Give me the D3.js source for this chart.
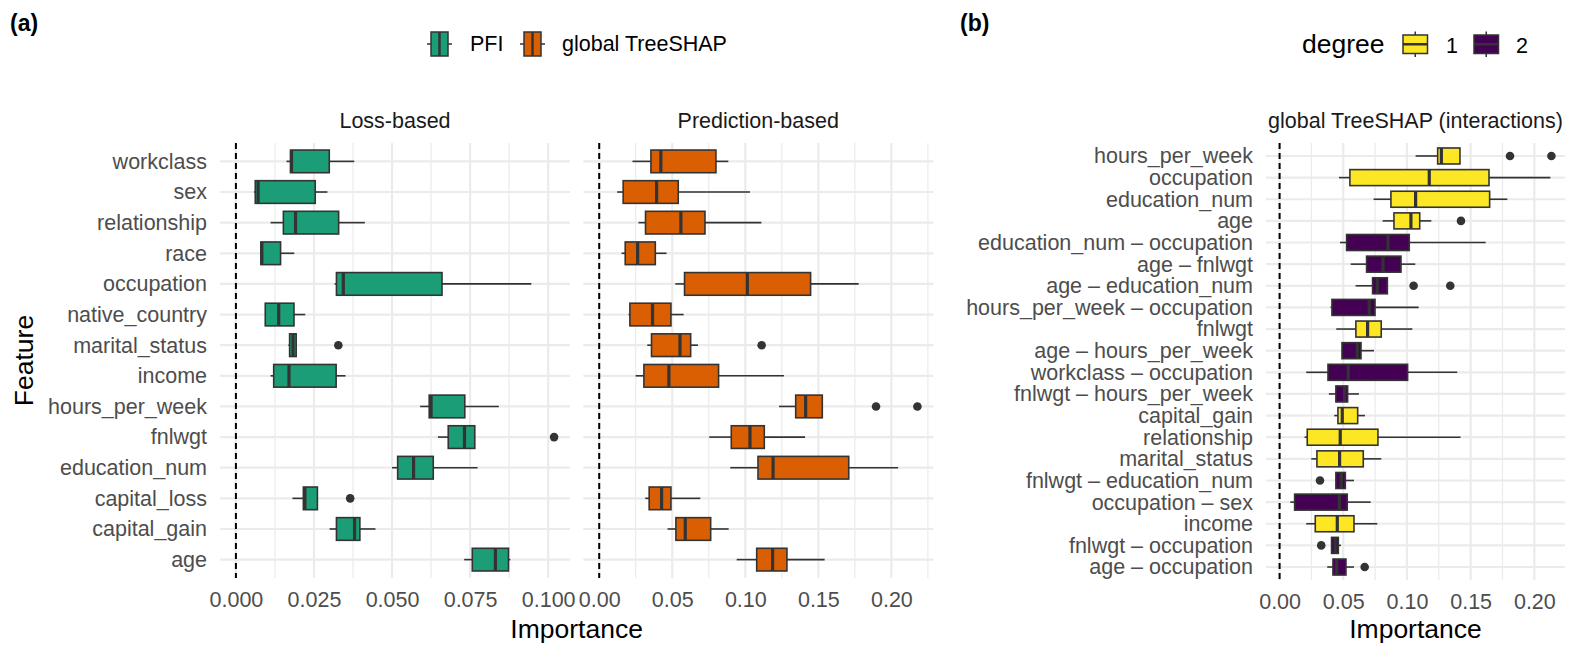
<!DOCTYPE html>
<html>
<head>
<meta charset="utf-8">
<script src="https://cdn.jsdelivr.net/npm/d3@7"></script>
<style>
  body { margin: 0; background: #fff; }
  text { font-family: "Liberation Sans", Arial, sans-serif; }
</style>
</head>
<body>
<div id="chart"></div>
<script>
// ---- data (whisker low, Q1, median, Q3, whisker high) ----
var features = ['workclass', 'sex', 'relationship', 'race', 'occupation', 'native_country',
  'marital_status', 'income', 'hours_per_week', 'fnlwgt', 'education_num',
  'capital_loss', 'capital_gain', 'age'];

var lossBoxes = [
  [0.0162, 0.0175, 0.0178, 0.0299, 0.0379],
  [0.0058, 0.0062, 0.0071, 0.0254, 0.0293],
  [0.0111, 0.0152, 0.0191, 0.0329, 0.0413],
  [0.0077, 0.0080, 0.0083, 0.0143, 0.0187],
  [0.0316, 0.0322, 0.0344, 0.0660, 0.0946],
  [0.0093, 0.0094, 0.0137, 0.0186, 0.0222],
  [0.0168, 0.0172, 0.0183, 0.0193, 0.0195],
  [0.0111, 0.0121, 0.0170, 0.0321, 0.0351],
  [0.0590, 0.0619, 0.0625, 0.0733, 0.0842],
  [0.0647, 0.0680, 0.0732, 0.0765, 0.0765],
  [0.0500, 0.0518, 0.0569, 0.0632, 0.0774],
  [0.0181, 0.0216, 0.0221, 0.0261, 0.0261],
  [0.0300, 0.0322, 0.0380, 0.0397, 0.0447],
  [0.0731, 0.0757, 0.0831, 0.0873, 0.0879]
];
var lossOutliers = [['marital_status', 0.0328], ['fnlwgt', 0.1019], ['capital_loss', 0.0366]];
var lossTicks = [0, 0.025, 0.05, 0.075, 0.1];

var predBoxes = [
  [0.0228, 0.0354, 0.0422, 0.0799, 0.0884],
  [0.0123, 0.0164, 0.0393, 0.0541, 0.1032],
  [0.0269, 0.0317, 0.0559, 0.0724, 0.1110],
  [0.0153, 0.0178, 0.0263, 0.0384, 0.0461],
  [0.0521, 0.0584, 0.1014, 0.1447, 0.1776],
  [0.0201, 0.0210, 0.0365, 0.0491, 0.0578],
  [0.0329, 0.0358, 0.0553, 0.0626, 0.0676],
  [0.0249, 0.0306, 0.0477, 0.0817, 0.1265],
  [0.1231, 0.1345, 0.1413, 0.1527, 0.1527],
  [0.0753, 0.0904, 0.1032, 0.1130, 0.1409],
  [0.0897, 0.1087, 0.1190, 0.1708, 0.2046],
  [0.0315, 0.0342, 0.0427, 0.0491, 0.0692],
  [0.0468, 0.0525, 0.0589, 0.0763, 0.0886],
  [0.0941, 0.1078, 0.1187, 0.1285, 0.1543]
];
var predOutliers = [['marital_status', 0.1112], ['hours_per_week', 0.1895], ['hours_per_week', 0.2178]];
var predTicks = [0, 0.05, 0.1, 0.15, 0.2];

var interTerms = ['hours_per_week', 'occupation', 'education_num', 'age',
  'education_num \u2013 occupation', 'age \u2013 fnlwgt', 'age \u2013 education_num',
  'hours_per_week \u2013 occupation', 'fnlwgt', 'age \u2013 hours_per_week',
  'workclass \u2013 occupation', 'fnlwgt \u2013 hours_per_week', 'capital_gain',
  'relationship', 'marital_status', 'fnlwgt \u2013 education_num', 'occupation \u2013 sex',
  'income', 'fnlwgt \u2013 occupation', 'age \u2013 occupation'];
var interDegree = [1, 1, 1, 1, 2, 2, 2, 2, 1, 2, 2, 2, 1, 1, 1, 2, 2, 1, 2, 2];
var interBoxes = [
  [0.1068, 0.1241, 0.1270, 0.1416, 0.1416],
  [0.0466, 0.0552, 0.1175, 0.1644, 0.2126],
  [0.0738, 0.0874, 0.1068, 0.1649, 0.1788],
  [0.0809, 0.0898, 0.1031, 0.1100, 0.1191],
  [0.0474, 0.0526, 0.0851, 0.1018, 0.1618],
  [0.0558, 0.0683, 0.0812, 0.0953, 0.1065],
  [0.0597, 0.0730, 0.0767, 0.0846, 0.0850],
  [0.0400, 0.0411, 0.0704, 0.0749, 0.1092],
  [0.0445, 0.0599, 0.0691, 0.0798, 0.1042],
  [0.0490, 0.0490, 0.0610, 0.0639, 0.0741],
  [0.0209, 0.0380, 0.0539, 0.1005, 0.1395],
  [0.0387, 0.0442, 0.0510, 0.0534, 0.0623],
  [0.0429, 0.0458, 0.0492, 0.0613, 0.0670],
  [0.0196, 0.0217, 0.0476, 0.0772, 0.1421],
  [0.0249, 0.0293, 0.0471, 0.0657, 0.0798],
  [0.0442, 0.0442, 0.0484, 0.0516, 0.0584],
  [0.0084, 0.0118, 0.0469, 0.0531, 0.0715],
  [0.0209, 0.0280, 0.0453, 0.0584, 0.0767],
  [0.0408, 0.0408, 0.0437, 0.0461, 0.0482],
  [0.0374, 0.0419, 0.0448, 0.0521, 0.0584]
];
var interOutliers = [['hours_per_week', 0.1809], ['hours_per_week', 0.2134], ['age', 0.1424],
  ['age \u2013 education_num', 0.1052], ['age \u2013 education_num', 0.1340],
  ['fnlwgt \u2013 education_num', 0.0317], ['fnlwgt \u2013 occupation', 0.0327],
  ['age \u2013 occupation', 0.0668]];
var interTicks = [0, 0.05, 0.1, 0.15, 0.2];

var methodNames = ['PFI', 'global TreeSHAP'];
var methodColors = ['#1B9E77', '#D95F02'];
var degreeNames = [1, 2];
var degreeColors = ['#FDE725', '#440154'];

// ---- layout ----
var W = 1578, H = 658;
var svg = d3.select('#chart').append('svg')
    .attr('width', W)
    .attr('height', H);

var axisGrey = '#4D4D4D', gridCol = '#EBEBEB', boxLine = '#333333';
var small = 21.5, big = 26.5;

function domainOf(boxes, outs) {
  var vals = [0];
  boxes.forEach(function(b) { vals.push(b[0], b[4]); });
  outs.forEach(function(o) { vals.push(o[1]); });
  var lo = d3.min(vals), hi = d3.max(vals), pad = (hi - lo) * 0.05;
  return [lo - pad, hi + pad];
}

function drawPanel(opt) {
  var g = svg.append('g');
  var x = d3.scaleLinear().domain(domainOf(opt.boxes, opt.outliers)).range([opt.x0, opt.x1]);
  var y = d3.scalePoint().domain(opt.cats).range([opt.y0, opt.y1]).padding(0.6);
  var bh = y.step() * 0.74;

  // minor grid halfway between majors
  var major = opt.ticks;
  var stepT = major[1] - major[0];
  var minor = [];
  for (var i = -1; i < major.length; i++) {
    var m = (i < 0 ? major[0] - stepT : major[i]) + stepT / 2;
    if (m >= x.domain()[0] && m <= x.domain()[1]) minor.push(m);
  }
  g.selectAll('.minor').data(minor).enter().append('line')
      .attr('x1', function(d) { return x(d); }).attr('x2', function(d) { return x(d); })
      .attr('y1', opt.y0).attr('y2', opt.y1)
      .attr('stroke', gridCol).attr('stroke-width', 1.2);
  g.selectAll('.majx').data(major).enter().append('line')
      .attr('x1', function(d) { return x(d); }).attr('x2', function(d) { return x(d); })
      .attr('y1', opt.y0).attr('y2', opt.y1)
      .attr('stroke', gridCol).attr('stroke-width', 2.2);
  g.selectAll('.majy').data(opt.cats).enter().append('line')
      .attr('x1', opt.x0).attr('x2', opt.x1)
      .attr('y1', function(d) { return y(d); }).attr('y2', function(d) { return y(d); })
      .attr('stroke', gridCol).attr('stroke-width', 2.2);

  // zero line
  g.append('line')
      .attr('x1', x(0)).attr('x2', x(0)).attr('y1', opt.y0).attr('y2', opt.y1)
      .attr('stroke', '#000').attr('stroke-width', 2).attr('stroke-dasharray', '6,4');

  // boxplots
  var rows = opt.cats.map(function(c, i) { return { cat: c, b: opt.boxes[i], fill: opt.fill(i) }; });
  var bx = g.selectAll('.box').data(rows).enter().append('g');
  bx.append('line')
      .attr('x1', function(d) { return x(d.b[0]); }).attr('x2', function(d) { return x(d.b[1]); })
      .attr('y1', function(d) { return y(d.cat); }).attr('y2', function(d) { return y(d.cat); })
      .attr('stroke', boxLine).attr('stroke-width', 1.6);
  bx.append('line')
      .attr('x1', function(d) { return x(d.b[3]); }).attr('x2', function(d) { return x(d.b[4]); })
      .attr('y1', function(d) { return y(d.cat); }).attr('y2', function(d) { return y(d.cat); })
      .attr('stroke', boxLine).attr('stroke-width', 1.6);
  bx.append('rect')
      .attr('x', function(d) { return x(d.b[1]); })
      .attr('width', function(d) { return x(d.b[3]) - x(d.b[1]); })
      .attr('y', function(d) { return y(d.cat) - bh / 2; })
      .attr('height', bh)
      .attr('fill', function(d) { return d.fill; })
      .attr('stroke', boxLine).attr('stroke-width', 1.6);
  bx.append('line')
      .attr('x1', function(d) { return x(d.b[2]); }).attr('x2', function(d) { return x(d.b[2]); })
      .attr('y1', function(d) { return y(d.cat) - bh / 2; }).attr('y2', function(d) { return y(d.cat) + bh / 2; })
      .attr('stroke', boxLine).attr('stroke-width', 3.2);
  g.selectAll('.out').data(opt.outliers).enter().append('circle')
      .attr('cx', function(d) { return x(d[1]); })
      .attr('cy', function(d) { return y(d[0]); })
      .attr('r', 4.3).attr('fill', boxLine);

  // x axis
  var ax = g.append('g')
      .attr('transform', 'translate(0,' + opt.y1 + ')')
      .call(d3.axisBottom(x).tickValues(major).tickFormat(d3.format(opt.fmt)).tickSize(0).tickPadding(14));
  ax.select('.domain').remove();
  ax.selectAll('text').attr('fill', axisGrey).style('font-size', small + 'px')
      .style('font-family', '"Liberation Sans", Arial, sans-serif');

  // y axis labels
  if (opt.ylabels) {
    var ay = g.append('g')
        .attr('transform', 'translate(' + opt.x0 + ',0)')
        .call(d3.axisLeft(y).tickSize(0).tickPadding(13));
    ay.select('.domain').remove();
    ay.selectAll('text').attr('fill', axisGrey).style('font-size', small + 'px')
        .style('font-family', '"Liberation Sans", Arial, sans-serif');
  }

  // strip text
  g.append('text')
      .attr('x', (opt.x0 + opt.x1) / 2).attr('y', 128)
      .attr('text-anchor', 'middle').attr('fill', '#1A1A1A')
      .style('font-size', small + 'px')
      .text(opt.strip);
  return x;
}

var panelTop = 143;
drawPanel({ cats: features, boxes: lossBoxes, outliers: lossOutliers, ticks: lossTicks,
  x0: 220, x1: 570, y0: panelTop, y1: 578, fmt: '.3f', strip: 'Loss-based', ylabels: true,
  fill: function() { return methodColors[0]; } });
drawPanel({ cats: features, boxes: predBoxes, outliers: predOutliers, ticks: predTicks,
  x0: 583.3, x1: 933.3, y0: panelTop, y1: 578, fmt: '.2f', strip: 'Prediction-based', ylabels: false,
  fill: function() { return methodColors[1]; } });
drawPanel({ cats: interTerms, boxes: interBoxes, outliers: interOutliers, ticks: interTicks,
  x0: 1266, x1: 1565, y0: panelTop, y1: 580, fmt: '.2f', strip: 'global TreeSHAP (interactions)', ylabels: true,
  fill: function(i) { return degreeColors[interDegree[i] - 1]; } });

// axis titles
svg.append('text').attr('x', (220 + 933.3) / 2).attr('y', 638)
    .attr('text-anchor', 'middle').style('font-size', big + 'px').text('Importance');
svg.append('text').attr('x', 1415.5).attr('y', 638)
    .attr('text-anchor', 'middle').style('font-size', big + 'px').text('Importance');
svg.append('text').attr('transform', 'translate(33,360.5) rotate(-90)')
    .attr('text-anchor', 'middle').style('font-size', big + 'px').text('Feature');

// panel tags
svg.append('text').attr('x', 10).attr('y', 31).style('font-size', '23px')
    .style('font-weight', 'bold').text('(a)');
svg.append('text').attr('x', 960).attr('y', 31).style('font-size', '23px')
    .style('font-weight', 'bold').text('(b)');

// legend (a): horizontal box keys
var legA = [{ x: 431, tx: 470 }, { x: 524, tx: 562 }];
methodNames.forEach(function(name, i) {
  var k = svg.append('g');
  var kx = legA[i].x, kw = 17, ky = 32, kh = 24, cy = ky + kh / 2;
  k.append('line').attr('x1', kx - 4).attr('x2', kx + kw + 4).attr('y1', cy).attr('y2', cy)
      .attr('stroke', boxLine).attr('stroke-width', 1.5);
  k.append('rect').attr('x', kx).attr('y', ky).attr('width', kw).attr('height', kh)
      .attr('fill', methodColors[i]).attr('stroke', boxLine).attr('stroke-width', 1.5);
  k.append('line').attr('x1', kx + kw / 2).attr('x2', kx + kw / 2).attr('y1', ky).attr('y2', ky + kh)
      .attr('stroke', boxLine).attr('stroke-width', 2.5);
  k.append('text').attr('x', legA[i].tx).attr('y', 51).style('font-size', '21.5px').text(name);
});

// legend (b): degree
svg.append('text').attr('x', 1302).attr('y', 53).style('font-size', big + 'px').text('degree');
var legB = [{ x: 1403, tx: 1446 }, { x: 1474, tx: 1516 }];
degreeNames.forEach(function(name, i) {
  var k = svg.append('g');
  var kx = legB[i].x, kw = 24.5, ky = 35, kh = 18.5, cx = kx + kw / 2;
  k.append('line').attr('x1', cx).attr('x2', cx).attr('y1', ky - 3.5).attr('y2', ky + kh + 3.5)
      .attr('stroke', boxLine).attr('stroke-width', 1.5);
  k.append('rect').attr('x', kx).attr('y', ky).attr('width', kw).attr('height', kh)
      .attr('fill', degreeColors[i]).attr('stroke', boxLine).attr('stroke-width', 1.5);
  k.append('line').attr('x1', kx).attr('x2', kx + kw).attr('y1', ky + kh / 2).attr('y2', ky + kh / 2)
      .attr('stroke', boxLine).attr('stroke-width', 2.5);
  k.append('text').attr('x', legB[i].tx).attr('y', 53).style('font-size', '21.5px').text(name);
});
</script>
</body>
</html>
